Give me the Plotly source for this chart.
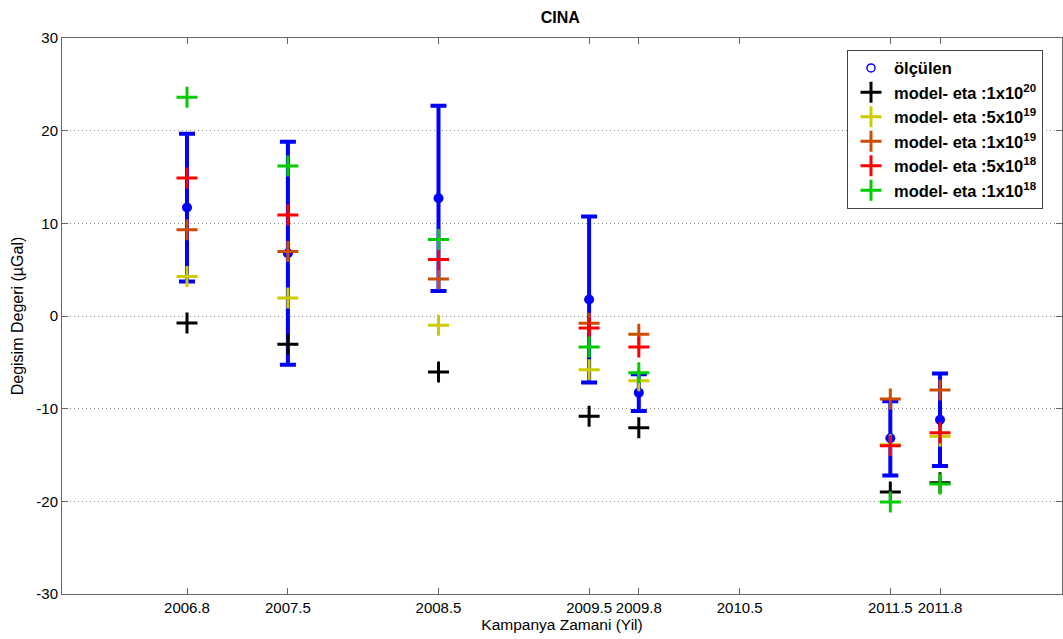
import plotly.graph_objects as go

# --- data ---
years = [2006.83, 2007.5, 2008.5, 2009.5, 2009.83, 2011.5, 2011.83]
olculen = [11.7, 6.77, 12.7, 1.78, -8.27, -13.2, -11.2]
olculen_err = [7.97, 12.03, 10.0, 8.95, 1.99, 4.0, 5.0]

eta_1e20 = [-0.75, -3.05, -6.03, -10.83, -12.05, -18.99, -18.0]
eta_5e19 = [4.27, 1.94, -1.0, -5.81, -7.0, -13.9, -12.98]
eta_1e19 = [9.3, 6.96, 3.98, -0.79, -1.97, -8.95, -7.98]
eta_5e18 = [14.9, 10.9, 6.1, -1.29, -3.34, -13.99, -12.59]
eta_1e18 = [23.6, 16.2, 8.26, -3.34, -6.13, -20.07, -18.12]

x_tick_vals = [2006.83, 2007.5, 2008.5, 2009.5, 2009.83, 2010.5, 2011.5, 2011.83]
x_tick_text = ["2006.8", "2007.5", "2008.5", "2009.5", "2009.8", "2010.5", "2011.5", "2011.8"]
y_tick_vals = [-30, -20, -10, 0, 10, 20, 30]
y_tick_text = ["-30", "-20", "-10", "0", "10", "20", "30"]

series = [
    ("model- eta :1x10<sup>20</sup>", eta_1e20, "#000000"),
    ("model- eta :5x10<sup>19</sup>", eta_5e19, "#CCCC00"),
    ("model- eta :1x10<sup>19</sup>", eta_1e19, "#CC4C00"),
    ("model- eta :5x10<sup>18</sup>", eta_5e18, "#FF0000"),
    ("model- eta :1x10<sup>18</sup>", eta_1e18, "#00CC00"),
]

FONT = "Liberation Sans, Arial, sans-serif"

fig = go.Figure()

# measured values with error bars (legend shown via a dummy open-circle trace)
fig.add_trace(go.Scatter(
    x=years, y=olculen, mode="markers", showlegend=False,
    marker=dict(symbol="circle", size=10, color="#0000FF"),
    error_y=dict(type="data", array=olculen_err, visible=True,
                 color="#0000FF", thickness=4, width=8),
))
fig.add_trace(go.Scatter(
    x=[None], y=[None], mode="markers", name="ölçülen",
    marker=dict(symbol="circle-open", size=8, color="#0000FF", line=dict(width=1.5)),
))

for name, vals, col in series:
    fig.add_trace(go.Scatter(
        x=years, y=vals, mode="markers", name=name,
        marker=dict(symbol="cross-thin", size=15, color=col,
                    line=dict(width=3, color=col)),
    ))

axis_color = "#666666"
fig.update_layout(
    width=1063, height=639,
    margin=dict(l=62, r=1, t=38, b=45),
    paper_bgcolor="white", plot_bgcolor="white",
    title=dict(text="<b>CINA</b>", x=0.527, xanchor="center", y=0.972, yanchor="middle",
               font=dict(family=FONT, size=16, color="black")),
    font=dict(family=FONT, color="black"),
    showlegend=True,
    legend=dict(x=0.785, y=0.979, xanchor="left", yanchor="top",
                bgcolor="white", bordercolor="#444444", borderwidth=1,
                font=dict(family=FONT, size=16.5, color="black", weight="bold"),
                itemwidth=36, tracegroupgap=0),
)

fig.update_xaxes(
    range=[2006.0, 2012.64], tickmode="array", tickvals=x_tick_vals, ticktext=x_tick_text,
    showgrid=False, zeroline=False, showline=True, linecolor=axis_color, linewidth=1,
    mirror="ticks", ticks="inside", ticklen=6, tickcolor=axis_color, automargin=False,
    tickfont=dict(family=FONT, size=15, color="black"),
    title=dict(text="Kampanya Zamani (Yil)", font=dict(family=FONT, size=15.5, color="black"), standoff=2),
)
fig.update_yaxes(
    range=[-30, 30], tickmode="array", tickvals=y_tick_vals, ticktext=y_tick_text,
    showgrid=True, gridcolor="#8a8a8a", griddash="1px,3px", gridwidth=1,
    zeroline=False, showline=True, linecolor=axis_color, linewidth=1,
    mirror="ticks", ticks="inside", ticklen=6, tickcolor=axis_color, automargin=False,
    tickfont=dict(family=FONT, size=15, color="black"),
    title=dict(text="Degisim Degeri (µGal)", font=dict(family=FONT, size=16, color="black"), standoff=8),
)

fig.write_html("out.html", config={"displayModeBar": False},
               post_script="document.body.style.margin='0';document.body.style.overflow='hidden';")
